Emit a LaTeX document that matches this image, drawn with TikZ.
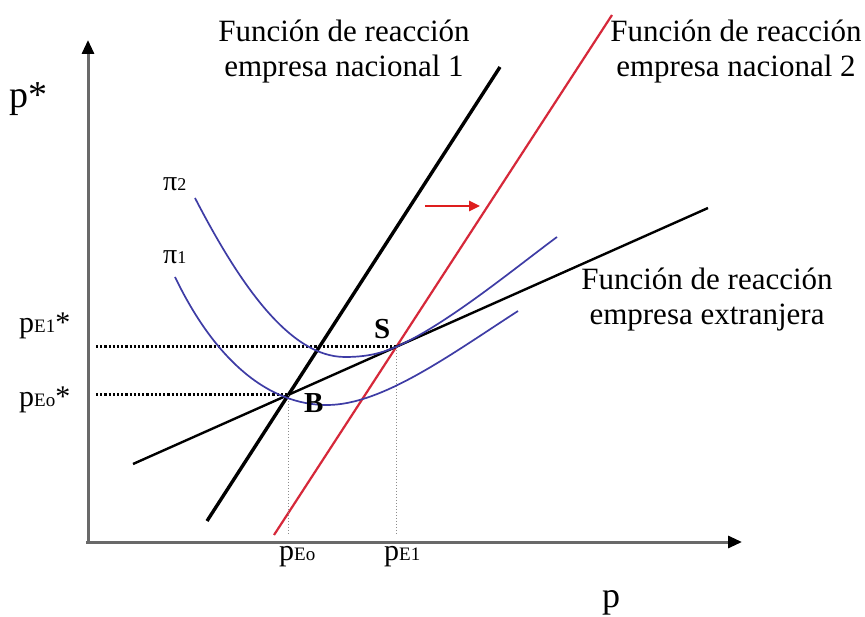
\documentclass[tikz,border=0pt]{standalone}
\usepackage{fontspec}
\setmainfont{Liberation Serif}
\usetikzlibrary{arrows.meta,intersections,calc}
\definecolor{curveblue}{RGB}{62,60,165}
\definecolor{lineRed}{RGB}{214,40,58}
\definecolor{arrowRed}{RGB}{222,30,30}
\definecolor{axisgray}{RGB}{105,105,105}
\begin{document}
\begin{tikzpicture}[x=1pt,y=-1pt,
  axisline/.style={draw=axisgray,line width=3pt,-{Triangle[black,length=14pt,width=12pt]}},
  nac1/.style={draw=black,line width=3.4pt},
  nac2/.style={draw=lineRed,line width=2.2pt},
  extr/.style={draw=black,line width=2.4pt},
  isoprofit/.style={draw=curveblue,line width=1.7pt},
  guideh/.style={draw=black,line width=2.6pt,dash pattern=on 2.2pt off 2pt},
  guidev/.style={draw=black!45,line width=1.6pt,dash pattern=on 1.5pt off 1.5pt},
  title/.style={font=\fontsize{31}{35}\selectfont,align=center,inner sep=0pt},
  ptlabel/.style={font=\fontsize{29}{29}\selectfont\bfseries,inner sep=0pt,anchor=base west},
  lab/.style={inner sep=0pt,anchor=base west}
]
\useasboundingbox (0,0) rectangle (865,617);
\fill[white] (0,0) rectangle (865,617);

% axes
\coordinate (O) at (88,542);
\coordinate (ytop) at (88,40);
\coordinate (xend) at (742,542);
\draw[axisline] (88,543) -- (ytop);
\draw[axisline] (86,542) -- (xend);

% reaction functions
\draw[nac1,name path=n1] (207,521) coordinate (n1a) -- (500,67) coordinate (n1b);
\draw[nac2,name path=n2] (274,535) coordinate (n2a) -- (612,15) coordinate (n2b);
\draw[extr,name path=ex] (133,464) coordinate (exa) -- (708,208) coordinate (exb);

\path[name intersections={of=n1 and ex,by=B}];
\path[name intersections={of=n2 and ex,by=S}];

% guides
\draw[guideh] (96,0 |- B) -- (B);
\draw[guideh] (96,0 |- S) -- (S);
\draw[guidev] (B) -- (B |- 0,535);
\draw[guidev] (S) -- (S |- 0,535);

% isoprofit curves
\draw[isoprofit] (175,277) .. controls (215,360) and (268,405) .. (327,405)
  .. controls (382,405) and (450,355) .. (518,311);
\draw[isoprofit] (195,198) .. controls (240,285) and (290,357) .. (345,357)
  .. controls (368,357) and ($(S)+(-14,6)$) .. (S)
  .. controls ($(S)+(50,-22)$) and (515,268) .. (557,237);

% shift arrow
\coordinate (sa) at (425,206);
\coordinate (sb) at (480,206);
\draw[arrowRed,line width=2.6pt,-{Triangle[length=11pt,width=10pt]}] (sa) -- (sb);

% titles
\node[title] (t1) at (344,52) {Función de reacción\\empresa nacional 1};
\node[title] (t2) at (736,52) {Función de reacción\\empresa nacional 2};
\node[title] (t3) at (707,300) {Función de reacción\\empresa extranjera};

% axis labels
\node[lab,font=\fontsize{38}{38}\selectfont] (pstar) at (9,108) {p*};
\node[lab,font=\fontsize{36}{36}\selectfont] (pp) at (602,607) {p};

\node[lab] (pe1s) at (19,333) {\fontsize{30}{30}\selectfont p\fontsize{19}{19}\selectfont E1\fontsize{30}{30}\selectfont *};
\node[lab] (pe0s) at (19,407) {\fontsize{30}{30}\selectfont p\fontsize{19}{19}\selectfont Eo\fontsize{30}{30}\selectfont *};
\node[lab] (pe0) at (279,560) {\fontsize{30}{30}\selectfont p\fontsize{19}{19}\selectfont Eo};
\node[lab] (pe1) at (384,560) {\fontsize{30}{30}\selectfont p\fontsize{19}{19}\selectfont E1};

\node[lab] (pi2) at (163,191) {\fontsize{28}{28}\selectfont π\fontsize{18}{18}\selectfont 2};
\node[lab] (pi1) at (163,264) {\fontsize{28}{28}\selectfont π\fontsize{18}{18}\selectfont 1};

\node[ptlabel] (lB) at (304,413) {B};
\node[ptlabel] (lS) at (374,339) {S};
\end{tikzpicture}
\end{document}
